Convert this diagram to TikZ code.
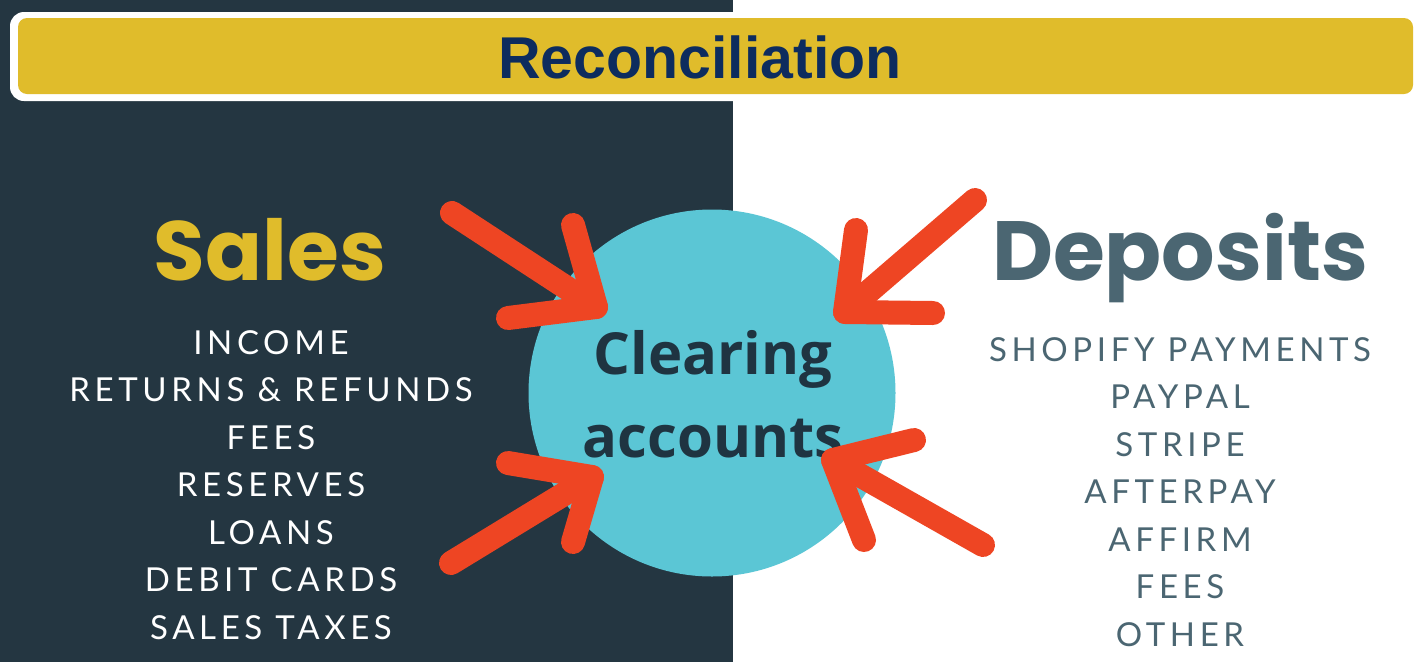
\documentclass[tikz,border=0pt]{standalone}
\usepackage{fontspec}
\usepackage{xcolor}
\usepackage{tikz}
\usetikzlibrary{positioning,calc}
\setmainfont{Liberation Sans}
\newfontfamily\headfont{Poppins}
\newfontfamily\listfont[LetterSpace=14]{Lato}
\newfontfamily\clearfont{Open Sans}
\definecolor{panel}{HTML}{243641}
\definecolor{banner}{HTML}{E0BC2B}
\definecolor{titleblue}{HTML}{0D2C5E}
\definecolor{clearing}{HTML}{5BC6D5}
\definecolor{pointer}{HTML}{EE4523}
\definecolor{slate}{HTML}{4B6672}
\definecolor{inktext}{HTML}{1F3441}

\begin{document}
\begin{tikzpicture}[
  x=1pt, y=-1pt,
  heading/.style={font=\headfont\bfseries\fontsize{84}{84}\selectfont, inner sep=0pt},
  items/.style={font=\listfont\fontsize{33}{47.5}\selectfont, align=center, inner sep=0pt},
  pointerline/.style={draw=pointer, line width=24pt, line cap=round, line join=round},
]
  \useasboundingbox (0,0) rectangle (1427,662);

  % Panels
  \fill[panel] (0,0) rectangle (733,662);
  \fill[white] (733,0) rectangle (1427,662);

  % Banner
  \fill[white, rounded corners=14pt] (10,12) rectangle (1421,101);
  \fill[banner, rounded corners=9pt] (18,18) rectangle (1413,94);
  \node[font=\bfseries\fontsize{59}{59}\selectfont, text=titleblue, inner sep=0pt] (title) at (700,57) {Reconciliation};

  % Clearing circle
  \node[circle, fill=clearing, minimum size=367pt, inner sep=0pt] (hub) at (712,393) {};
  \node[font=\clearfont\bfseries\fontsize{58}{83}\selectfont, text=inktext, align=center, inner sep=0pt] (hublabel) at (713,394) {Clearing\\accounts};

  % Headings
  \node[heading, text=banner] (sales) at (270,250) {Sales};
  \node[heading, text=slate] (deposits) at (1180,258) {Deposits};

  % Lists
  \node[items, text=white, anchor=north] (salesitems) at (271,330)
    {INCOME\\RETURNS \& REFUNDS\\FEES\\RESERVES\\LOANS\\DEBIT CARDS\\SALES TAXES};
  \node[items, text=slate, anchor=north] (depositsitems) at (1180,337)
    {SHOPIFY PAYMENTS\\PAYPAL\\STRIPE\\AFTERPAY\\AFFIRM\\FEES\\OTHER};

  % Pointers
  \coordinate (tlTail) at (452,213);  \coordinate (tlTip) at (596,307);
  \coordinate (tlArmA) at (573,225);  \coordinate (tlArmB) at (508,318);
  \coordinate (trTail) at (975,200);  \coordinate (trTip) at (845,312);
  \coordinate (trArmA) at (856,230);  \coordinate (trArmB) at (933,313);
  \coordinate (blTail) at (451,563);  \coordinate (blTip) at (592,477);
  \coordinate (blArmA) at (508,463);  \coordinate (blArmB) at (573,542);
  \coordinate (brTail) at (983,545);  \coordinate (brTip) at (833,460);
  \coordinate (brArmA) at (914,440);  \coordinate (brArmB) at (864,540);

  \foreach \p in {tl,tr,bl,br} {
    \draw[pointerline] (\p Tail) -- (\p Tip);
    \draw[pointerline] (\p ArmA) -- (\p Tip) -- (\p ArmB);
  }
\end{tikzpicture}
\end{document}
